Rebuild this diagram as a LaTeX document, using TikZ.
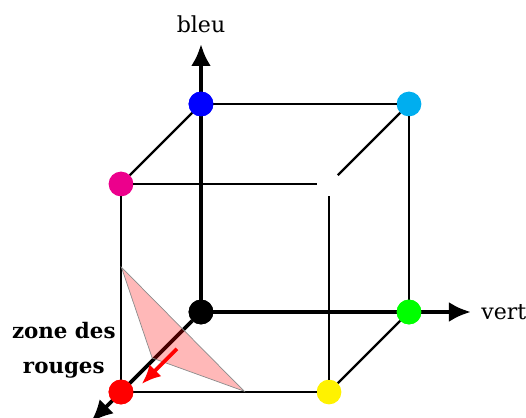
\documentclass[tikz,border=0pt]{standalone}
\usepackage{fontspec}
\setmainfont{DejaVu Serif}
\usetikzlibrary{arrows.meta}
\definecolor{cubecyan}{RGB}{0,174,239}
\definecolor{cubemagenta}{RGB}{236,0,140}
\definecolor{cubeyellow}{RGB}{255,242,0}
\begin{document}
\begin{tikzpicture}[
        corner/.style={circle, inner sep=0pt, outer sep=0pt, minimum size=0.62cm},
        edge/.style={line width=1.7pt},
        axis/.style={-{Latex[length=0.55cm, width=0.5cm]}},
        label/.style={font=\fontsize{15.7}{20}\selectfont, align=center}
    ]

    \useasboundingbox (-5.025,-2.65) rectangle (8.125,7.8);

    % Cube corners
    \node[corner, fill=black] (black) at (0,0) {};
    \node[corner, fill=blue] (blue) at (0,5.2) {};
    \node[corner, fill=green] (green) at (5.2,0) {};
    \node[corner, fill=red] (red) at (-2,-2) {};
    \node[corner, fill=cubecyan] (cyanc) at (5.2,5.2) {};
    \node[corner, fill=cubemagenta] (magentac) at (-2,3.2) {};
    \node[corner, fill=cubeyellow] (yellowc) at (3.2,-2) {};
    \node[corner, fill=white] (whitec) at (3.2,3.2) {};

    % Axis ends
    \coordinate (bleuend) at (0,6.7);
    \coordinate (vertend) at (6.75,0);
    \coordinate (rougeend) at (-2.75,-2.75);

    % Cube edges
    \draw[edge] (blue) -- (cyanc);
    \draw[edge] (blue) -- (magentac);
    \draw[edge] (cyanc) -- (green);
    \draw[edge] (cyanc) -- (whitec);
    \draw[edge] (magentac) -- (whitec);
    \draw[edge] (magentac) -- (red);
    \draw[edge] (whitec) -- (yellowc);
    \draw[edge] (red) -- (yellowc);
    \draw[edge] (yellowc) -- (green);

    % Axes
    \draw[axis, line width=3.5pt] (black) -- (bleuend);
    \draw[axis, line width=3.2pt] (black) -- (vertend);
    \draw[axis, line width=2.6pt] (black) -- (rougeend);

    % Red zone
    \coordinate (zonea) at (-1.99,1.12);
    \coordinate (zoneb) at (1.08,-1.98);
    \coordinate (zonec) at (-1.22,-1.15);
    \draw[draw=black!45, line width=0.5pt, fill=red, fill opacity=0.28] (zonea) -- (zoneb) -- (zonec) -- cycle;

    % Red arrow
    \coordinate (arrowa) at (-0.6,-0.92);
    \coordinate (arrowb) at (-1.48,-1.8);
    \draw[red, line width=2.6pt, -{Latex[length=0.48cm, width=0.42cm]}] (arrowa) -- (arrowb);

    % Corners on top
    \node[corner, fill=black] at (black) {};
    \node[corner, fill=blue] at (blue) {};
    \node[corner, fill=green] at (green) {};
    \node[corner, fill=red] at (red) {};

    % Labels
    \node[label] (bleulabel) at (0,7.2) {bleu};
    \node[label] (vertlabel) at (7.57,0) {vert};
    \node[label, font=\fontsize{15.2}{25}\selectfont\bfseries] (zonelabel) at (-3.43,-0.95) {zone des\\rouges};

\end{tikzpicture}
\end{document}
